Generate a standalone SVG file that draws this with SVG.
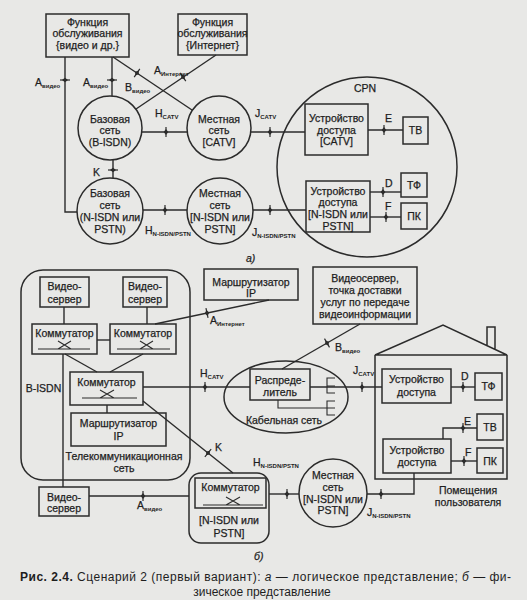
<svg xmlns="http://www.w3.org/2000/svg" width="527" height="600" viewBox="0 0 527 600">
<style>
.t{font-family:"Liberation Sans",Arial,sans-serif;font-size:10.5px;fill:#1e1e1e;stroke:#1e1e1e;stroke-width:0.25;text-anchor:middle}
.l{font-family:"Liberation Sans",Arial,sans-serif;font-size:10.5px;fill:#1e1e1e;stroke:#1e1e1e;stroke-width:0.25}
.s{font-size:6px;font-weight:bold;stroke-width:0}
.b{fill:none;stroke:#2b2b2b;stroke-width:1.5}
.c line,.c path,.c polyline{fill:none;stroke:#2b2b2b;stroke-width:1.4}
.sw{fill:none;stroke:#2b2b2b;stroke-width:1.1}
.cap{font-family:"Liberation Sans",Arial,sans-serif;font-size:12px;fill:#1e1e1e}
</style>
<defs>
<g id="tk"><line x1="0" y1="-5" x2="0" y2="5" stroke="#2b2b2b" stroke-width="1.2"/><path d="M0 -3 L2.3 0 L0 3 L-2.3 0Z" fill="#2b2b2b"/></g>
</defs>
<rect x="0" y="0" width="527" height="600" fill="#e8e8e6"/>

<!-- ===== Part a ===== -->
<g id="func-video"><rect class="b" x="46" y="14" width="83" height="43"/>
<text class="t" x="87.5" y="25.5">Функция</text><text class="t" x="87.5" y="37">обслуживания</text><text class="t" x="87.5" y="48.5">{видео и др.}</text></g>
<g id="func-internet"><rect class="b" x="178" y="14" width="69" height="41"/>
<text class="t" x="212.5" y="25.5">Функция</text><text class="t" x="212.5" y="37">обслуживания</text><text class="t" x="212.5" y="48.5">{Интернет}</text></g>
<g id="bisdn-a"><circle class="b" cx="110" cy="128" r="32"/>
<text class="t" x="110" y="122.5">Базовая</text><text class="t" x="110" y="134">сеть</text><text class="t" x="110" y="145.5">(B-ISDN)</text></g>
<g id="catv-a"><circle class="b" cx="219" cy="128" r="32"/>
<text class="t" x="219" y="122.5">Местная</text><text class="t" x="219" y="134">сеть</text><text class="t" x="219" y="145.5">[CATV]</text></g>
<g id="nisdn-base-a"><circle class="b" cx="110" cy="211" r="33"/>
<text class="t" x="110" y="196.5">Базовая</text><text class="t" x="110" y="208.5">сеть</text><text class="t" x="110" y="220.5">(N-ISDN или</text><text class="t" x="110" y="232.5">PSTN)</text></g>
<g id="nisdn-local-a"><circle class="b" cx="220" cy="211" r="33"/>
<text class="t" x="220" y="196.5">Местная</text><text class="t" x="220" y="208.5">сеть</text><text class="t" x="220" y="220.5">[N-ISDN или</text><text class="t" x="220" y="232.5">PSTN]</text></g>
<g id="cpn"><circle class="b" cx="367" cy="167" r="90"/>
<text class="t" x="365" y="92">CPN</text></g>
<g id="access-catv-a"><rect class="b" x="305" y="104" width="63" height="51"/>
<text class="t" x="336.5" y="121.5">Устройство</text><text class="t" x="336.5" y="133.5">доступа</text><text class="t" x="336.5" y="145">[CATV]</text></g>
<g id="access-nisdn-a"><rect class="b" x="306" y="181" width="64" height="51"/>
<text class="t" x="338" y="194.5">Устройство</text><text class="t" x="338" y="206">доступа</text><text class="t" x="338" y="217.5">[N-ISDN или</text><text class="t" x="338" y="229.5">PSTN]</text></g>
<g id="tv-a"><rect class="b" x="403" y="117" width="25" height="27"/><text class="t" x="415.5" y="134">ТВ</text></g>
<g id="tf-a"><rect class="b" x="401" y="173" width="26" height="24"/><text class="t" x="414" y="189">ТФ</text></g>
<g id="pk-a"><rect class="b" x="401" y="203" width="26" height="26"/><text class="t" x="414" y="220">ПК</text></g>
<text class="l" x="246" y="262" font-style="italic">а)</text>

<!-- ===== Part b ===== -->
<g id="bisdn-b"><rect class="b" x="21" y="270" width="169" height="210" rx="22"/>
<text class="t" x="43.5" y="392">B-ISDN</text>
<text class="t" x="124" y="460" font-size="11">Телекоммуникационная</text><text class="t" x="124" y="472" font-size="11">сеть</text></g>
<g id="vs1"><rect class="b" x="40" y="277" width="49" height="30"/><text class="t" x="64.5" y="289.5">Видео-</text><text class="t" x="64.5" y="302.5">сервер</text></g>
<g id="vs2"><rect class="b" x="123" y="277" width="44" height="30"/><text class="t" x="145" y="289.5">Видео-</text><text class="t" x="145" y="302.5">сервер</text></g>
<g id="sw1"><rect class="b" x="32" y="324" width="65" height="30"/><text class="t" x="64.5" y="336.5">Коммутатор</text>
<path class="sw" d="M38 349 H90 M58 341 L71 349 M58 349 L71 341"/></g>
<g id="sw2"><rect class="b" x="110" y="324" width="66" height="30"/><text class="t" x="143" y="336.5">Коммутатор</text>
<path class="sw" d="M117 349 H170 M140 341 L153 349 M140 349 L153 341"/></g>
<g id="sw3"><rect class="b" x="70" y="372" width="73" height="33"/><text class="t" x="106.5" y="385.5">Коммутатор</text>
<path class="sw" d="M82 398 H137 M100 390 L114 398 M100 398 L114 390"/></g>
<g id="router-in"><rect class="b" x="71" y="413" width="95" height="33"/><text class="t" x="118.5" y="426.5">Маршрутизатор</text><text class="t" x="118.5" y="439.5">IP</text></g>
<g id="vs3"><rect class="b" x="39" y="487" width="50" height="29"/><text class="t" x="64" y="500.5">Видео-</text><text class="t" x="64" y="511.5">сервер</text></g>
<g id="router-out"><rect class="b" x="204" y="269" width="94" height="31"/><text class="t" x="251" y="285.5">Маршрутизатор</text><text class="t" x="251" y="297">IP</text></g>
<g id="vserver"><rect class="b" x="313" y="267" width="104" height="57"/>
<text class="t" x="365" y="281.5">Видеосервер,</text><text class="t" x="365" y="293.5">точка доставки</text><text class="t" x="365" y="305.5">услуг по передаче</text><text class="t" x="365" y="317.5">видеоинформации</text></g>
<g id="cable"><ellipse class="b" cx="286" cy="397" rx="62" ry="36"/><text class="t" x="284" y="424">Кабельная сеть</text>
<path class="sw" d="M335 378 H327 V393 H335 M327 386 H335 M278 400 V408 H335 M335 401 H327 V415 H335" stroke-width="1.3"/></g>
<g id="distributor"><rect class="b" x="250" y="369" width="60" height="31"/><text class="t" x="280" y="383.5">Распреде-</text><text class="t" x="280" y="396">литель</text></g>
<g id="sw-nisdn"><rect class="b" x="189" y="473" width="80" height="70" rx="12"/>
<rect class="b" x="195" y="478" width="71" height="30"/><text class="t" x="230.5" y="490.5">Коммутатор</text>
<path class="sw" d="M203 505 H263 M226 497 L240 505 M226 505 L240 497"/>
<text class="t" x="229" y="524">[N-ISDN или</text><text class="t" x="229" y="537">PSTN]</text></g>
<g id="local-nisdn-b"><circle class="b" cx="333" cy="493" r="34"/>
<text class="t" x="333" y="478.5">Местная</text><text class="t" x="333" y="490.5">сеть</text><text class="t" x="333" y="502.5">[N-ISDN или</text><text class="t" x="333" y="514">PSTN]</text></g>
<g id="house"><path class="b" d="M375 355 L443 325 L507 355 Z M375 355 V479 H507 V355 M487 346 V327 H495 V349"/>
<text class="t" x="468" y="494">Помещения</text><text class="t" x="468" y="506">пользователя</text></g>
<g id="access1-b"><rect class="b" x="382" y="369" width="69" height="34"/><text class="t" x="416.5" y="383">Устройство</text><text class="t" x="416.5" y="396">доступа</text></g>
<g id="access2-b"><rect class="b" x="383" y="439" width="68" height="34"/><text class="t" x="417" y="453.5">Устройство</text><text class="t" x="417" y="466">доступа</text></g>
<g id="tf-b"><rect class="b" x="475" y="373" width="27" height="27"/><text class="t" x="488.5" y="390">ТФ</text></g>
<g id="tv-b"><rect class="b" x="477" y="414" width="26" height="26"/><text class="t" x="490" y="431">ТВ</text></g>
<g id="pk-b"><rect class="b" x="477" y="448" width="26" height="25"/><text class="t" x="490" y="464.5">ПК</text></g>
<text class="l" x="254" y="560" font-style="italic">б)</text>

<!-- ===== Connectors ===== -->
<g id="connectors" class="c">
<polyline points="65,57 65,212 77,212"/>
<line x1="112" y1="57" x2="112" y2="96"/>
<line x1="113" y1="57" x2="192" y2="110"/>
<line x1="216" y1="55" x2="136" y2="109"/>
<line x1="142" y1="132" x2="188" y2="132"/>
<line x1="251" y1="132" x2="305" y2="132"/>
<line x1="113" y1="160" x2="113" y2="178"/>
<line x1="143" y1="210" x2="187" y2="210"/>
<line x1="253" y1="210" x2="306" y2="210"/>
<line x1="368" y1="130" x2="403" y2="130"/>
<line x1="370" y1="192" x2="401" y2="192"/>
<line x1="370" y1="217" x2="401" y2="217"/>

<line x1="64" y1="307" x2="64" y2="324"/>
<line x1="147" y1="307" x2="147" y2="324"/>
<line x1="97" y1="340" x2="110" y2="340"/>
<line x1="65" y1="354" x2="97" y2="372"/>
<line x1="143" y1="354" x2="110" y2="372"/>
<line x1="63" y1="354" x2="63" y2="487"/>
<line x1="107" y1="405" x2="107" y2="413"/>
<line x1="155" y1="324" x2="269" y2="300"/>
<line x1="143" y1="387" x2="250" y2="387"/>
<line x1="310" y1="387" x2="382" y2="387"/>
<line x1="360" y1="324" x2="282" y2="369"/>
<line x1="143" y1="401" x2="233" y2="473"/>
<line x1="89" y1="496" x2="189" y2="496"/>
<line x1="269" y1="494" x2="299" y2="494"/>
<polyline points="367,494 414,494 414,473"/>
<line x1="451" y1="387" x2="475" y2="387"/>
<polyline points="443,439 443,428 477,428"/>
<line x1="451" y1="461" x2="477" y2="461"/>

<use href="#tk" transform="translate(65,80) rotate(90)"/>
<use href="#tk" transform="translate(112,80) rotate(90)"/>
<use href="#tk" transform="translate(137,73) rotate(34)"/>
<use href="#tk" transform="translate(183,77) rotate(-34)"/>
<use href="#tk" transform="translate(166,132)"/>
<use href="#tk" transform="translate(270,132)"/>
<use href="#tk" transform="translate(113,170) rotate(90)"/>
<use href="#tk" transform="translate(165,210)"/>
<use href="#tk" transform="translate(270,210)"/>
<use href="#tk" transform="translate(384,130)"/>
<use href="#tk" transform="translate(383,192)"/>
<use href="#tk" transform="translate(386,217)"/>

<use href="#tk" transform="translate(207,313) rotate(-12)"/>
<use href="#tk" transform="translate(205,387)"/>
<use href="#tk" transform="translate(362,387)"/>
<use href="#tk" transform="translate(327,343) rotate(-30)"/>
<use href="#tk" transform="translate(208,453) rotate(39)"/>
<use href="#tk" transform="translate(143,496)"/>
<use href="#tk" transform="translate(287,494)"/>
<use href="#tk" transform="translate(381,494)"/>
<use href="#tk" transform="translate(463,387)"/>
<use href="#tk" transform="translate(463,428)"/>
<use href="#tk" transform="translate(464,461)"/>
</g>

<!-- ===== Labels ===== -->
<g id="labels">
<text class="l" x="35" y="86">A<tspan class="s" dy="2">видео</tspan></text>
<text class="l" x="83" y="86">A<tspan class="s" dy="2">видео</tspan></text>
<text class="l" x="125" y="91">B<tspan class="s" dy="2">видео</tspan></text>
<text class="l" x="154" y="74">A<tspan class="s" dy="2">Интернет</tspan></text>
<text class="l" x="155" y="117">H<tspan class="s" dy="2">CATV</tspan></text>
<text class="l" x="255" y="117">J<tspan class="s" dy="2">CATV</tspan></text>
<text class="l" x="93" y="176">K</text>
<text class="l" x="145" y="234">H<tspan class="s" dy="2">N-ISDN/PSTN</tspan></text>
<text class="l" x="252" y="236">J<tspan class="s" dy="2">N-ISDN/PSTN</tspan></text>
<text class="l" x="385" y="122">E</text>
<text class="l" x="385" y="187">D</text>
<text class="l" x="385" y="210">F</text>

<text class="l" x="210" y="324">A<tspan class="s" dy="2">Интернет</tspan></text>
<text class="l" x="200" y="377">H<tspan class="s" dy="2">CATV</tspan></text>
<text class="l" x="335" y="351">B<tspan class="s" dy="2">видео</tspan></text>
<text class="l" x="353" y="374">J<tspan class="s" dy="2">CATV</tspan></text>
<text class="l" x="461" y="380">D</text>
<text class="l" x="464" y="425">E</text>
<text class="l" x="465" y="456">F</text>
<text class="l" x="215" y="451">K</text>
<text class="l" x="137" y="509">A<tspan class="s" dy="2">видео</tspan></text>
<text class="l" x="253" y="466">H<tspan class="s" dy="2">N-ISDN/PSTN</tspan></text>
<text class="l" x="367" y="516">J<tspan class="s" dy="2">N-ISDN/PSTN</tspan></text>
</g>

<g id="caption">
<text class="cap" x="20" y="581" textLength="491" lengthAdjust="spacing"><tspan font-weight="bold">Рис. 2.4.</tspan> Сценарий 2 (первый вариант): <tspan font-style="italic">а</tspan> — логическое представление; <tspan font-style="italic">б</tspan> — фи-</text>
<text class="cap" x="262" y="596" text-anchor="middle">зическое представление</text>
</g>
</svg>
